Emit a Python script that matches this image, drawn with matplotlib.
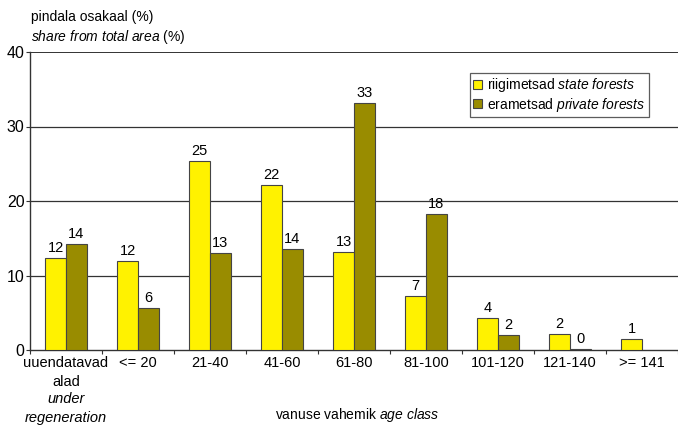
import matplotlib
matplotlib.use("Agg")
import matplotlib.pyplot as plt
import numpy as np
from matplotlib.patches import Patch
import matplotlib.transforms as mtransforms

plt.rcParams['font.family'] = ['Liberation Sans', 'DejaVu Sans']
plt.rcParams['mathtext.fontset'] = 'custom'
plt.rcParams['mathtext.rm'] = 'Liberation Sans'
plt.rcParams['mathtext.it'] = 'Liberation Sans:italic'

categories = ["uuendatavad\nalad", "<= 20", "21-40", "41-60", "61-80",
              "81-100", "101-120", "121-140", ">= 141"]
first_cat_en = "under\nregeneration"
state = [12.4, 12.0, 25.4, 22.2, 13.1, 7.2, 4.3, 2.1, 1.5]
private = [14.2, 5.7, 13.0, 13.6, 33.1, 18.3, 2.0, 0.2, 0.0]
state_labels = ["12", "12", "25", "22", "13", "7", "4", "2", "1"]
private_labels = ["14", "6", "13", "14", "33", "18", "2", "0", ""]

c_state = "#FFF200"
c_priv = "#998C00"
edge = "#444444"
fs = 10

fig = plt.figure(figsize=(6.78, 4.25), dpi=100)
ax = fig.add_axes([30/678, 1-350/425, 1-30/678, (350-52)/425])

x = np.arange(len(categories))
w = 0.29
ax.bar(x - w/2, state, w, color=c_state, edgecolor=edge, linewidth=0.8, zorder=3)
ax.bar(x + w/2, private, w, color=c_priv,
       edgecolor=[edge if v > 0 else 'none' for v in private], linewidth=0.8, zorder=3)

for xi, v, lab in zip(x, state, state_labels):
    ax.text(xi - w/2, v + 0.4, lab, ha='center', va='bottom', fontsize=fs + 0.5)
for xi, v, lab in zip(x, private, private_labels):
    if lab:
        ax.text(xi + w/2, v + 0.4, lab, ha='center', va='bottom', fontsize=fs + 0.5)

ax.set_xlim(-0.5, len(categories) - 0.5)
ax.set_ylim(0, 40)
ax.set_yticks([0, 10, 20, 30, 40])
ax.tick_params(axis='y', labelsize=fs + 1.5, length=3, width=0.8, color='#333333', pad=1)
ax.set_xticks(x)
ax.set_xticklabels(categories, fontsize=fs + 0.5, linespacing=1.45)
ax.tick_params(axis='x', length=0, pad=4)
ax.set_xticks(np.arange(len(categories) + 1) - 0.5, minor=True)
ax.tick_params(axis='x', which='minor', length=3, width=0.8, color='#333333')

for yv in [10, 20, 30]:
    ax.axhline(yv, color='#333333', linewidth=0.9, zorder=1)
ax.axhline(40, color='#333333', linewidth=1.4, zorder=1)

for s in ['top', 'right']:
    ax.spines[s].set_visible(False)
ax.spines['left'].set_color('#333333')
ax.spines['bottom'].set_color('#333333')
ax.spines['left'].set_linewidth(1.0)
ax.spines['bottom'].set_linewidth(1.0)

trans = mtransforms.blended_transform_factory(ax.transData, fig.transFigure)
ax.text(0, 1 - 392/425, first_cat_en, transform=trans, ha='center', va='top',
        fontsize=fs + 0.5, style='italic', linespacing=1.45)

fig.text(31/678, 1 - 17/425, "pindala osakaal (%)", fontsize=fs, va='center', ha='left')
fig.text(31/678, 1 - 37/425, r"$\it{share\ from\ total\ area}$ (%)", fontsize=fs,
         va='center', ha='left')
fig.text(357/678, 1 - 415/425, r"vanuse vahemik $\it{age\ class}$", fontsize=fs,
         va='center', ha='center')

handles = [Patch(facecolor=c_state, edgecolor=edge, linewidth=0.8),
           Patch(facecolor=c_priv, edgecolor=edge, linewidth=0.8)]
leg = ax.legend(handles, [r"riigimetsad $\it{state\ forests}$",
                          r"erametsad $\it{private\ forests}$"],
                loc='upper left', bbox_to_anchor=((470-30)/648, 1 - (72.7-52)/298),
                fontsize=fs, frameon=True, fancybox=False, edgecolor='#333333',
                handlelength=0.6, handleheight=0.6, handletextpad=0.4,
                borderpad=0.25, labelspacing=0.1, borderaxespad=0)
leg.get_frame().set_linewidth(0.9)

fig.savefig("out.png", dpi=100)
